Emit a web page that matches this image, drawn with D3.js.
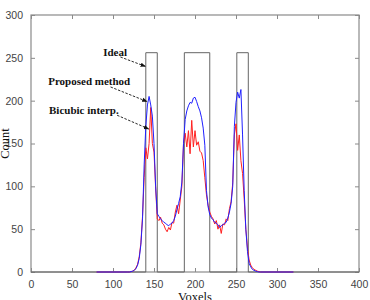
<!DOCTYPE html>
<html>
<head>
<meta charset="utf-8">
<script src="https://cdn.jsdelivr.net/npm/d3@7"></script>
<style>
  body { margin: 0; background: #fff; }
  svg { display: block; }
</style>
</head>
<body>
<svg id="chart" width="370" height="300"></svg>
<script>
const width = 370, height = 300;
const margin = {top: 15, right: 11, bottom: 28, left: 31};

// voxel positions: sparse tails + dense peak region
const voxels = [80].concat(d3.range(118, 281, 2), [320]);

// proposed method (blue)
const proposed = [0,
  0, 0, 0.5, 1, 2, 4, 8, 16, 32, 62,
  125, 170, 195, 205, 195, 182, 150, 100, 68, 65,
  62, 60, 58, 57, 55, 54, 56, 57, 60, 65,
  73, 80, 88, 105, 150, 178, 188, 194, 198, 197,
  203, 204, 199, 193, 188, 180, 168, 148, 95, 76,
  67, 63, 61, 58, 57, 55, 52, 54, 55, 57,
  58, 63, 70, 80, 100, 170, 198, 210, 203, 213,
  160, 95, 50, 24, 10, 6, 3, 2, 1, 0.5,
  0, 0,
  0];

// bicubic interp. (red)
const bicubic = [0,
  0, 0, 0.5, 1, 2, 5, 9, 18, 34, 65,
  110, 145, 132, 150, 192, 150, 140, 98, 62, 60,
  64, 57, 55, 50, 47, 52, 49, 58, 57, 70,
  78, 68, 84, 100, 150, 162, 146, 165, 138, 177,
  146, 165, 148, 152, 141, 139, 130, 110, 90, 78,
  70, 65, 62, 56, 60, 50, 55, 45, 56, 55,
  62, 60, 74, 82, 104, 160, 173, 142, 160, 130,
  115, 85, 50, 28, 14, 8, 5, 3, 2, 1,
  0.5, 0,
  0];

// ideal profile: three boxes of height 256
const idealX = [0, 140, 140, 154, 154, 187, 187, 218, 218, 251, 251, 265, 265, 400];
const idealY = [0, 0, 256, 256, 0, 0, 256, 256, 0, 0, 256, 256, 0, 0];

const xTicks = [0, 50, 100, 150, 200, 250, 300, 350, 400];
const yTicks = [0, 50, 100, 150, 200, 250, 300];

// annotations: label anchor, arrow start, arrow end (data units)
const notes = [
  {text: "Ideal",           lx: 88, ly: 252, x0: 109, y0: 251, x1: 139.5, y1: 240},
  {text: "Proposed method", lx: 21, ly: 218, x0: 97,  y0: 216, x1: 141.5, y1: 199},
  {text: "Bicubic interp.", lx: 22, ly: 185, x0: 105, y0: 183, x1: 143.5, y1: 167}
];

const svg = d3.select("#chart");
const x = d3.scaleLinear().domain([0, 400]).range([margin.left, width - margin.right]);
const y = d3.scaleLinear().domain([0, 300]).range([height - margin.bottom, margin.top]);

const axisColor = "#8a8a8a";
const tickFont = "'Liberation Sans', Arial, sans-serif";
const serif = "'Liberation Serif', 'Times New Roman', serif";

// axes (ticks inward, box style)
function styleAxis(g) {
  g.select(".domain").remove();
  g.selectAll(".tick line").attr("stroke", axisColor);
  g.selectAll(".tick text").attr("fill", "#444").attr("font-family", tickFont).attr("font-size", 10.5);
}
svg.append("g").attr("transform", `translate(0,${y(0)})`)
  .call(d3.axisBottom(x).tickValues(xTicks).tickSizeInner(-4).tickSizeOuter(0).tickPadding(9))
  .call(styleAxis);
svg.append("g").attr("transform", `translate(0,${y(300)})`)
  .call(d3.axisTop(x).tickValues(xTicks).tickSizeInner(-4).tickSizeOuter(0).tickFormat(""))
  .call(styleAxis);
svg.append("g").attr("transform", `translate(${x(0)},0)`)
  .call(d3.axisLeft(y).tickValues(yTicks).tickSizeInner(-4).tickSizeOuter(0).tickPadding(8))
  .call(styleAxis);
svg.append("g").attr("transform", `translate(${x(400)},0)`)
  .call(d3.axisRight(y).tickValues(yTicks).tickSizeInner(-4).tickSizeOuter(0).tickFormat(""))
  .call(styleAxis);

svg.append("rect")
  .attr("x", x(0)).attr("y", y(300))
  .attr("width", x(400) - x(0)).attr("height", y(0) - y(300))
  .attr("fill", "none").attr("stroke", axisColor).attr("stroke-width", 1.2);

const line = d3.line().x(d => x(d[0])).y(d => y(d[1]));

svg.append("path")
  .datum(idealX.map((v, i) => [v, idealY[i]]))
  .attr("d", line).attr("fill", "none").attr("stroke", "#666").attr("stroke-width", 1);

svg.append("path")
  .datum(voxels.map((v, i) => [v, bicubic[i]]))
  .attr("d", line).attr("fill", "none").attr("stroke", "#ff2020").attr("stroke-width", 1);

svg.append("path")
  .datum(voxels.map((v, i) => [v, proposed[i]]))
  .attr("d", line).attr("fill", "none").attr("stroke", "#2020ff").attr("stroke-width", 1);

// arrow marker
svg.append("defs").append("marker")
  .attr("id", "arrow").attr("viewBox", "0 0 10 10")
  .attr("refX", 9).attr("refY", 5)
  .attr("markerWidth", 6).attr("markerHeight", 6)
  .attr("orient", "auto")
  .append("path").attr("d", "M0,1 L10,5 L0,9 Z").attr("fill", "#111");

svg.selectAll(".note-line").data(notes).join("line")
  .attr("x1", d => x(d.x0)).attr("y1", d => y(d.y0))
  .attr("x2", d => x(d.x1)).attr("y2", d => y(d.y1))
  .attr("stroke", "#111").attr("stroke-width", 0.9)
  .attr("stroke-dasharray", "2.5,1.5")
  .attr("marker-end", "url(#arrow)");

svg.selectAll(".note-text").data(notes).join("text")
  .attr("x", d => x(d.lx)).attr("y", d => y(d.ly))
  .attr("font-family", serif).attr("font-size", 11).attr("font-weight", "bold")
  .attr("fill", "#111")
  .text(d => d.text);

// axis labels
svg.append("text")
  .attr("x", (x(0) + x(400)) / 2).attr("y", 301)
  .attr("text-anchor", "middle")
  .attr("font-family", serif).attr("font-size", 12.5).attr("fill", "#111")
  .text("Voxels");

svg.append("text")
  .attr("transform", `translate(9,${(y(0) + y(300)) / 2}) rotate(-90)`)
  .attr("text-anchor", "middle")
  .attr("font-family", serif).attr("font-size", 12.5).attr("fill", "#111")
  .text("Count");
</script>
</body>
</html>
